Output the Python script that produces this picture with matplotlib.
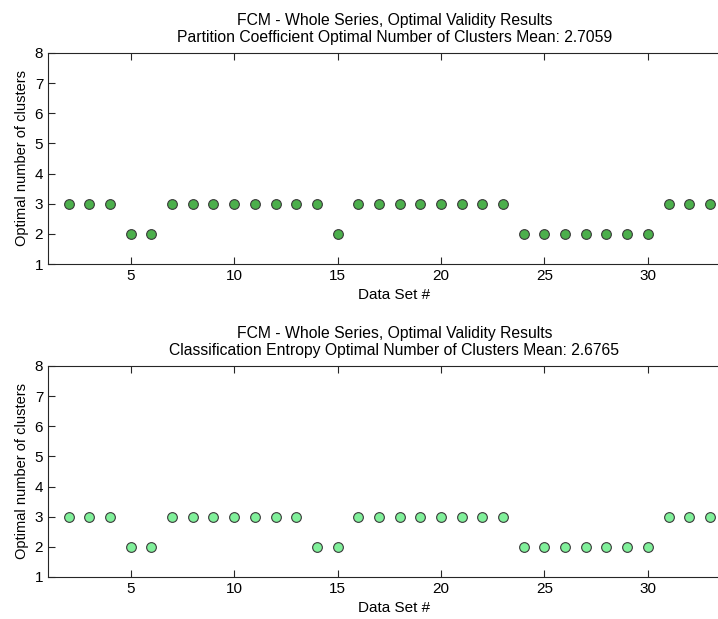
import matplotlib
matplotlib.use("Agg")
import matplotlib.pyplot as plt

# data sets and optimal cluster counts per validity index
data_sets = list(range(2, 34))
pc_clusters = [3, 3, 3, 2, 2, 3, 3, 3, 3, 3, 3, 3, 3, 2, 3, 3,
               3, 3, 3, 3, 3, 3, 2, 2, 2, 2, 2, 2, 2, 3, 3, 3]
ce_clusters = [3, 3, 3, 2, 2, 3, 3, 3, 3, 3, 3, 3, 2, 2, 3, 3,
               3, 3, 3, 3, 3, 3, 2, 2, 2, 2, 2, 2, 2, 3, 3, 3]
titles = [
    "FCM - Whole Series, Optimal Validity Results\n"
    "Partition Coefficient Optimal Number of Clusters Mean: 2.7059",
    "FCM - Whole Series, Optimal Validity Results\n"
    "Classification Entropy Optimal Number of Clusters Mean: 2.6765",
]
fill_colors = ["#4caf4c", "#80f09a"]

plt.rcParams["font.family"] = ["Liberation Sans", "DejaVu Sans"]
plt.rcParams["font.size"] = 11

fig = plt.figure(figsize=(7.18, 6.19), dpi=100)
# right edge runs past the figure, like the cropped original
positions = [[0.0669, 0.5735, 0.965, 0.3409],
             [0.0669, 0.0679, 0.965, 0.3409]]

for pos, values, title, color in zip(positions, [pc_clusters, ce_clusters], titles, fill_colors):
    ax = fig.add_axes(pos)
    ax.plot(data_sets, values, "o", markersize=7, markerfacecolor=color,
            markeredgecolor="#3a3a3a", markeredgewidth=0.8, linestyle="none")
    ax.set_xlim(1, 34.5)
    ax.set_ylim(1, 8)
    ax.set_xticks([5, 10, 15, 20, 25, 30])
    ax.set_yticks(range(1, 9))
    ax.tick_params(direction="in", top=True, right=True, length=5, width=0.8,
                   color="#262626", labelsize=11)
    for s in ax.spines.values():
        s.set_color("#262626")
        s.set_linewidth(0.8)
    ax.set_title(title, fontsize=11.3, linespacing=1.15, pad=8)
    ax.set_xlabel("Data Set #", labelpad=4)
    ax.set_ylabel("Optimal number of clusters", fontsize=10.5, labelpad=4)

plt.savefig("out.png", dpi=100)
